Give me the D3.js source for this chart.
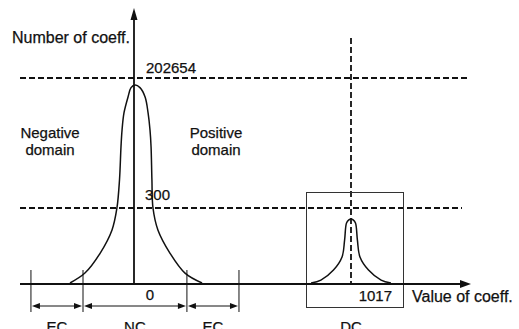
<!DOCTYPE html>
<html>
<head>
<meta charset="utf-8">
<script src="https://cdn.jsdelivr.net/npm/d3@7"></script>
<style>
  body { margin: 0; background: #fff; }
  text { font-family: "Liberation Sans", Arial, sans-serif; fill: #111; stroke: #111; stroke-width: 0.25; }
</style>
</head>
<body>
<svg id="chart" width="519" height="329"></svg>
<script>
// schematic distribution of coefficient values
const ncValues = [-300, -230, -159, -103, -80, -68, -61, -56, -47, -28, -14, 5, 28, 52, 66, 75, 80, 84, 89, 112, 169, 239, 319];
const ncCounts = [7, 11.5, 31, 100, 300, 1224, 6400, 15000, 35200, 78300, 125000, 142900, 125000, 78300, 35200, 15000, 6400, 1224, 300, 100, 31, 11.5, 7];

const dcValues = [830, 876, 935, 975, 987, 996, 1007, 1017, 1027, 1038, 1047, 1059, 1099, 1158, 1204];
const dcCounts = [7, 8.1, 13.4, 25.8, 60, 141, 165, 173, 165, 141, 60, 25.8, 13.4, 8.1, 7];

const refCounts = [202654, 300];          // horizontal dashed lines
const dcValue = 1017;                      // vertical dashed line
const dcBox = [806, 1261];                 // DC range box
const regionBounds = [-483, -239, 248, 492];
const regionLabels = ["EC", "NC", "EC"];

const svg = d3.select("#chart");
const ink = "#111";

const x = d3.scaleLinear().domain([0, 1017]).range([134, 351]);
const y = d3.scaleLog().domain([300, 202654]).range([208, 78]);
const y0 = 284;      // baseline
const xLeft = 20, xRight = 471;

// dashed reference lines
svg.append("line")
  .attr("x1", xLeft).attr("x2", 468)
  .attr("y1", y(refCounts[0])).attr("y2", y(refCounts[0]))
  .attr("stroke", ink).attr("stroke-width", 1.8).attr("stroke-dasharray", "6,3");
svg.append("line")
  .attr("x1", xLeft).attr("x2", 462)
  .attr("y1", y(refCounts[1])).attr("y2", y(refCounts[1]))
  .attr("stroke", ink).attr("stroke-width", 1.8).attr("stroke-dasharray", "6,3");
svg.append("line")
  .attr("x1", x(dcValue)).attr("x2", x(dcValue))
  .attr("y1", 38).attr("y2", y0)
  .attr("stroke", ink).attr("stroke-width", 1.8).attr("stroke-dasharray", "6,3");

// DC box
const bx0 = Math.round(x(dcBox[0])) + 0.5, bx1 = Math.round(x(dcBox[1])) + 0.5;
svg.append("rect")
  .attr("x", bx0).attr("y", 192.5)
  .attr("width", bx1 - bx0).attr("height", 307 - 192)
  .attr("fill", "none").attr("stroke", "#333").attr("stroke-width", 1);

// curves
const line = d3.line()
  .x(d => x(d[0]))
  .y(d => y(d[1]))
  .curve(d3.curveCatmullRom);

svg.append("path")
  .datum(ncValues.map((v, i) => [v, ncCounts[i]]))
  .attr("d", line)
  .attr("fill", "none").attr("stroke", ink).attr("stroke-width", 1.5);

svg.append("path")
  .datum(dcValues.map((v, i) => [v, dcCounts[i]]))
  .attr("d", line)
  .attr("fill", "none").attr("stroke", ink).attr("stroke-width", 1.5);

// axes
svg.append("line")
  .attr("x1", xLeft).attr("x2", xRight - 8)
  .attr("y1", y0).attr("y2", y0)
  .attr("stroke", ink).attr("stroke-width", 1.8);
svg.append("path")
  .attr("d", `M${xRight},${y0} L${xRight - 11},${y0 - 4} L${xRight - 11},${y0 + 4} Z`)
  .attr("fill", ink);

svg.append("line")
  .attr("x1", x(0)).attr("x2", x(0))
  .attr("y1", y0).attr("y2", 16)
  .attr("stroke", ink).attr("stroke-width", 1.8);
svg.append("path")
  .attr("d", `M${x(0)},8 L${x(0) - 3.5},20 L${x(0) + 3.5},20 Z`)
  .attr("fill", ink);

// region ticks and arrows
svg.selectAll(".rtick")
  .data(regionBounds)
  .join("line")
  .attr("class", "rtick")
  .attr("x1", d => x(d)).attr("x2", d => x(d))
  .attr("y1", 270).attr("y2", 312)
  .attr("stroke", ink).attr("stroke-width", 1);

const ay = 306;
d3.range(regionLabels.length).forEach(i => {
  const a = x(regionBounds[i]) + 1, b = x(regionBounds[i + 1]) - 1;
  svg.append("line")
    .attr("x1", a + 6).attr("x2", b - 6)
    .attr("y1", ay).attr("y2", ay)
    .attr("stroke", ink).attr("stroke-width", 1);
  svg.append("path")
    .attr("d", `M${a},${ay} L${a + 8},${ay - 3} L${a + 8},${ay + 3} Z M${b},${ay} L${b - 8},${ay - 3} L${b - 8},${ay + 3} Z`)
    .attr("fill", ink);
  svg.append("text")
    .attr("x", (x(regionBounds[i]) + x(regionBounds[i + 1])) / 2)
    .attr("y", 332)
    .attr("text-anchor", "middle")
    .attr("font-size", 15)
    .text(regionLabels[i]);
});

svg.append("text")
  .attr("x", x(dcValue)).attr("y", 332)
  .attr("text-anchor", "middle").attr("font-size", 15)
  .text("DC");

// labels
svg.append("text").attr("x", 12).attr("y", 43).attr("font-size", 16).text("Number of coeff.");
svg.append("text").attr("x", 146).attr("y", 73).attr("font-size", 15).text(refCounts[0]);
svg.append("text").attr("x", 145).attr("y", 200).attr("font-size", 15).text(refCounts[1]);
svg.append("text").attr("x", 150).attr("y", 300).attr("text-anchor", "middle").attr("font-size", 15).text("0");
svg.append("text").attr("x", 392).attr("y", 301).attr("text-anchor", "end").attr("font-size", 15).text(dcValue);
svg.append("text").attr("x", 412).attr("y", 302).attr("font-size", 16).text("Value of coeff.");

svg.append("text").attr("x", 50).attr("y", 138).attr("text-anchor", "middle").attr("font-size", 15).text("Negative");
svg.append("text").attr("x", 50).attr("y", 155).attr("text-anchor", "middle").attr("font-size", 15).text("domain");
svg.append("text").attr("x", 216).attr("y", 138).attr("text-anchor", "middle").attr("font-size", 15).text("Positive");
svg.append("text").attr("x", 216).attr("y", 155).attr("text-anchor", "middle").attr("font-size", 15).text("domain");
</script>
</body>
</html>
